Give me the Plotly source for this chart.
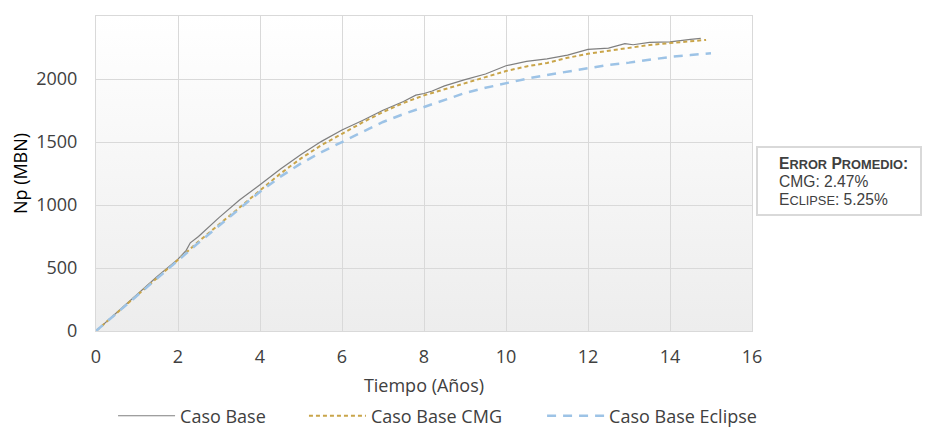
import plotly.graph_objects as go

# ---- data ----
t_base = [0, 0.5, 1, 1.5, 2, 2.2, 2.3, 2.5, 3, 3.5, 4, 4.5, 5, 5.5, 6, 6.5, 7, 7.5, 7.8, 8.0,
          8.2, 8.5, 9, 9.5, 10, 10.5, 11, 11.5, 12, 12.5, 12.9, 13.1, 13.5, 14, 14.5, 14.75]
np_base = [0, 145, 290, 435, 570, 640, 700, 750, 900, 1040, 1160, 1285, 1400, 1505, 1595, 1670,
           1752, 1822, 1872, 1885, 1905, 1945, 1995, 2040, 2105, 2140, 2160, 2190, 2235, 2245,
           2280, 2272, 2290, 2295, 2315, 2322]

t_cmg = [0, 0.5, 1, 1.5, 2, 2.5, 3, 3.5, 4, 4.5, 5, 5.5, 6, 6.5, 7, 7.5, 8, 8.5, 9, 9.5, 10,
         10.5, 11, 11.5, 12, 12.5, 13, 13.5, 14, 14.5, 14.88]
np_cmg = [0, 140, 285, 425, 565, 710, 845, 980, 1110, 1250, 1370, 1475, 1565, 1655, 1738, 1810,
          1870, 1920, 1968, 2015, 2063, 2100, 2127, 2168, 2200, 2225, 2250, 2270, 2285, 2300, 2310]

t_ecl = [0, 0.5, 1, 1.5, 2, 2.5, 3, 3.5, 4, 4.5, 5, 5.5, 6, 6.5, 7, 7.5, 8, 8.5, 9, 9.5, 10,
         10.5, 11, 11.5, 12, 12.5, 13, 13.5, 14, 14.5, 15]
np_ecl = [0, 140, 285, 425, 565, 700, 835, 968, 1105, 1225, 1330, 1420, 1500, 1585, 1659, 1722,
          1778, 1838, 1889, 1930, 1968, 2002, 2032, 2060, 2087, 2112, 2130, 2152, 2175, 2190, 2205]

series_names = ["Caso Base", "Caso Base CMG", "Caso Base Eclipse"]
x_ticks = [0, 2, 4, 6, 8, 10, 12, 14, 16]
y_ticks = [0, 500, 1000, 1500, 2000, 2500]
note_lines = [
    "<b>E<span style='font-size:12.8px'>RROR</span> P<span style='font-size:12.8px'>ROMEDIO</span>:</b>",
    "CMG: 2.47%",
    "E<span style='font-size:12.8px'>CLIPSE</span>: 5.25%",
]

FONT = "'Open Sans', Lato, sans-serif"
TXT = "#404040"
GRID = "#d9d9d9"
FS = 18

fig = go.Figure()
fig.add_trace(go.Scatter(x=t_base, y=np_base, mode="lines", name=series_names[0],
                         line=dict(color="#7f7f7f", width=1.2), legend="legend"))
fig.add_trace(go.Scatter(x=t_cmg, y=np_cmg, mode="lines", name=series_names[1],
                         line=dict(color="#C9A54A", width=2, dash="4px,3px"), legend="legend2"))
fig.add_trace(go.Scatter(x=t_ecl, y=np_ecl, mode="lines", name=series_names[2],
                         line=dict(color="#9DC3E6", width=2.5, dash="9px,7px"), legend="legend3"))

svg = ("data:image/svg+xml;utf8,<svg xmlns='http://www.w3.org/2000/svg' width='100' height='100' "
       "preserveAspectRatio='none'><defs><linearGradient id='g' x1='0' y1='0' x2='0' y2='1'>"
       "<stop offset='0' stop-color='%23ffffff'/><stop offset='1' stop-color='%23ededed'/>"
       "</linearGradient></defs><rect width='100' height='100' fill='url(%23g)'/></svg>")

fig.add_layout_image(dict(source=svg, xref="paper", yref="paper", x=0, y=1, sizex=1, sizey=1,
                          xanchor="left", yanchor="top", sizing="stretch", layer="below"))

# note box
fig.add_shape(type="rect", xref="paper", yref="paper", x0=1.0076, x1=1.2576, y0=0.368, y1=0.584,
              line=dict(color=GRID, width=2), fillcolor="white", layer="above")
for txt, yy in zip(note_lines, [0.532, 0.475, 0.418]):
    fig.add_annotation(text=txt, xref="paper", yref="paper", x=1.0381, y=yy,
                       xanchor="left", yanchor="middle", align="left", showarrow=False,
                       font=dict(family="Liberation Sans, Arial, sans-serif", size=15.6,
                                 color="#404040"))

leg_common = dict(orientation="h", yanchor="middle", y=-0.27, xanchor="left",
                  font=dict(size=FS, color=TXT), itemwidth=57, bgcolor="rgba(0,0,0,0)")

fig.update_layout(
    width=924, height=422,
    margin=dict(l=88, r=180, t=8, b=99, autoexpand=False),
    paper_bgcolor="white", plot_bgcolor="rgba(0,0,0,0)",
    font=dict(family=FONT, size=FS, color=TXT),
    showlegend=True,
    legend=dict(x=0.026, **leg_common),
    legend2=dict(x=0.317, **leg_common),
    legend3=dict(x=0.68, **leg_common),
    xaxis=dict(range=[0, 16], tickvals=x_ticks, showgrid=True, gridcolor=GRID, gridwidth=1,
               showline=True, linecolor=GRID, linewidth=1, mirror=True, zeroline=False,
               ticks="outside", ticklen=9, tickcolor="rgba(0,0,0,0)", tickangle=0,
               title=dict(text="Tiempo (Años)", font=dict(size=FS, color=TXT), standoff=12)),
    yaxis=dict(range=[0, 2500], tickvals=y_ticks, showgrid=True, gridcolor=GRID, gridwidth=1,
               showline=True, linecolor=GRID, linewidth=1, mirror=True, zeroline=False,
               ticks="outside", ticklen=14, tickcolor="rgba(0,0,0,0)",
               title=dict(text="Np (MBN)", font=dict(size=FS, color="#000000"), standoff=8)),
)

fig.write_html("out.html")
